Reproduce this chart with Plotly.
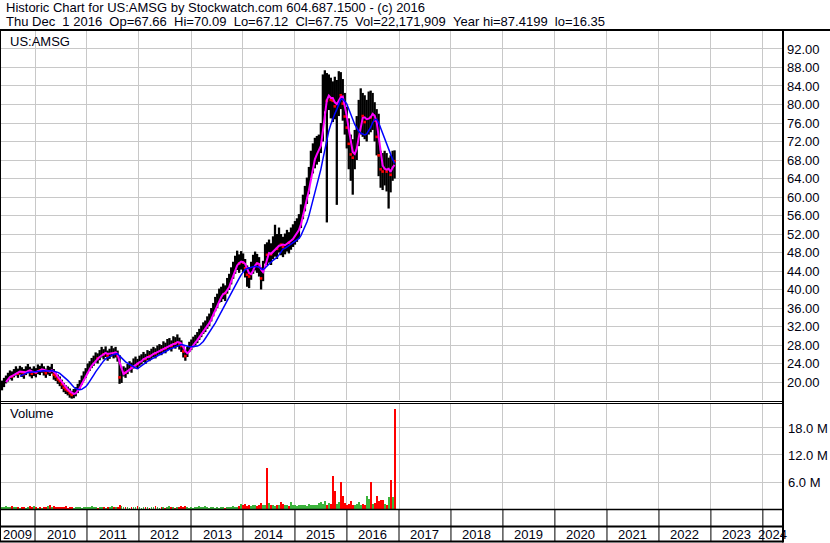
import pandas as pd
import plotly.graph_objects as go

# ---------------- data (biweekly) ----------------
close = [
    19.4, 19.9, 20.6, 21.0, 21.6, 21.2, 21.9, 22.4, 21.8, 22.6,
    22.1, 21.7, 22.5, 22.9, 22.2, 21.8, 22.4, 22.0, 22.7, 22.5,
    23.0, 22.4, 21.9, 22.6, 22.3, 22.8, 21.6, 21.2, 20.6, 20.2,
    19.5, 18.8, 18.4, 18.1, 17.6, 17.2, 17.5, 17.9, 18.6, 19.5,
    20.4, 21.3, 21.9, 23.0, 23.4, 24.1, 24.6, 25.3, 25.1, 25.8,
    26.4, 26.0, 26.5, 25.7, 26.1, 26.6, 26.2, 26.4, 25.6, 21.0,
    21.8, 22.3, 22.0, 22.8, 23.4, 23.1, 24.0, 24.4, 23.9, 24.6,
    24.9, 25.4, 25.0, 25.8, 25.6, 26.1, 26.5, 26.2, 26.8, 27.1,
    26.9, 27.6, 27.3, 28.0, 28.2, 27.8, 28.6, 28.4, 28.9, 28.3,
    27.8, 26.6, 25.6, 26.5, 27.6, 28.0, 28.6, 29.0, 29.6, 30.3,
    30.9, 31.6, 32.0, 32.8, 33.4, 34.5, 35.6, 36.8, 37.5, 38.6,
    38.9, 39.6, 39.2, 40.8, 41.6, 42.9, 44.1, 45.3, 46.2, 45.6,
    46.3, 45.8, 44.6, 43.2, 42.8, 44.0, 45.4, 46.1, 45.6, 44.9,
    42.4, 44.0, 48.0, 47.5, 48.1, 47.6, 48.9, 49.4, 48.8, 50.2,
    49.7, 49.2, 49.8, 50.5, 50.1, 51.0, 51.6, 52.2, 52.8, 53.6,
    55.8, 57.8, 59.6, 61.3, 63.5, 66.8, 68.2, 69.4, 70.1, 70.6,
    72.5, 79.5, 82.5, 80.8, 82.4, 81.0, 80.8, 79.6, 79.8, 83.0,
    82.0, 80.2, 77.4, 75.0, 71.5, 69.2, 68.5, 70.2, 72.5, 75.8,
    78.0, 77.5, 76.2, 76.8, 77.8, 77.2, 79.0, 76.5, 73.0, 69.0,
    66.0, 65.5, 66.8, 65.5, 66.0, 64.8, 68.3, 67.75,
]
high = [
    20.3, 20.9, 21.4, 22.0, 22.5, 22.3, 22.8, 23.4, 22.9, 23.5,
    23.2, 22.8, 23.4, 23.9, 23.3, 22.9, 23.4, 23.0, 23.8, 23.5,
    24.0, 23.4, 22.9, 23.5, 23.3, 23.9, 22.8, 22.1, 21.6, 21.2,
    20.5, 19.8, 19.3, 19.0, 18.6, 18.1, 18.5, 18.9, 19.6, 20.4,
    21.4, 22.3, 23.0, 24.0, 24.5, 25.2, 25.7, 26.4, 26.2, 26.9,
    27.6, 27.1, 27.7, 26.8, 27.2, 27.8, 27.3, 27.6, 26.8, 25.8,
    23.0, 23.4, 23.1, 23.9, 24.5, 24.2, 25.1, 25.5, 25.0, 25.7,
    26.0, 26.5, 26.1, 26.9, 26.7, 27.2, 27.6, 27.3, 27.9, 28.2,
    28.0, 28.8, 28.5, 29.3, 29.5, 29.0, 29.9, 29.7, 30.3, 29.6,
    29.0, 27.9, 26.8, 27.6, 28.7, 29.2, 29.8, 30.2, 30.8, 31.5,
    32.2, 32.9, 33.3, 34.2, 34.8, 36.0, 37.1, 38.4, 39.1, 40.2,
    40.6, 41.3, 40.9, 42.5, 43.4, 44.8, 46.0, 47.3, 48.4, 47.6,
    48.3, 47.8, 46.6, 45.2, 44.8, 46.0, 47.5, 48.2, 47.7, 47.0,
    44.8, 46.2, 49.8, 50.2, 50.8, 50.0, 51.5, 54.0, 52.0, 53.4,
    52.0, 51.4, 52.1, 52.9, 52.4, 53.4, 54.1, 54.8, 55.4, 56.3,
    58.4, 60.5, 62.4, 64.2, 66.5, 70.0, 71.6, 72.8, 73.2, 73.5,
    76.0, 86.5, 87.4, 86.8, 86.5, 85.8, 85.0, 86.0, 85.3, 87.2,
    87.0, 85.5, 82.5, 79.5, 77.0, 73.5, 72.5, 74.5, 77.5, 81.0,
    83.5, 82.5, 82.0, 81.0, 82.8, 83.0, 82.5, 80.5, 79.0, 78.0,
    70.0, 69.5, 70.0, 69.5, 68.5, 69.0, 70.0, 70.09,
]
low = [
    18.2, 18.9, 19.7, 20.1, 20.6, 20.3, 21.0, 21.4, 20.9, 21.6,
    21.1, 20.7, 21.5, 21.9, 21.2, 20.8, 21.3, 21.0, 21.7, 21.5,
    22.0, 21.4, 20.9, 21.6, 21.3, 21.8, 20.5, 20.2, 19.6, 19.1,
    18.5, 17.8, 17.4, 17.1, 16.6, 16.4, 16.5, 16.9, 17.6, 18.5,
    19.4, 20.3, 20.9, 21.9, 22.4, 23.0, 23.5, 24.2, 24.0, 24.7,
    25.3, 24.9, 25.4, 24.6, 25.0, 25.5, 25.1, 25.3, 24.4, 19.6,
    19.8, 21.2, 20.9, 21.7, 22.3, 22.0, 22.9, 23.3, 22.8, 23.5,
    23.8, 24.3, 23.9, 24.7, 24.5, 25.0, 25.4, 25.1, 25.7, 26.0,
    25.8, 26.5, 26.2, 26.8, 27.0, 26.6, 27.4, 27.2, 27.6, 27.0,
    26.5, 25.3, 24.6, 25.4, 26.5, 26.9, 27.5, 27.9, 28.4, 29.1,
    29.7, 30.4, 30.8, 31.5, 32.1, 33.1, 34.2, 35.3, 36.0, 37.1,
    37.3, 37.9, 37.5, 39.1, 39.9, 41.1, 42.3, 43.4, 44.2, 43.6,
    44.3, 43.8, 42.6, 40.6, 40.3, 42.1, 43.4, 44.1, 43.6, 42.8,
    40.0, 41.8, 45.6, 45.3, 45.8, 45.3, 46.6, 47.1, 46.6, 48.0,
    47.4, 47.0, 47.6, 48.2, 47.8, 48.6, 49.2, 49.7, 50.3, 51.0,
    53.3, 55.2, 56.9, 58.5, 60.6, 63.8, 65.1, 66.2, 67.0, 67.6,
    69.5, 72.0, 78.5, 54.5, 78.8, 77.0, 76.2, 76.8, 58.3, 77.5,
    79.0, 76.5, 73.5, 70.5, 66.0, 63.5, 60.5, 66.0, 68.0, 71.0,
    73.5, 73.0, 72.5, 72.0, 73.5, 74.0, 74.5, 72.0, 69.0, 64.5,
    62.0, 61.5, 62.5, 61.2, 57.5, 61.0, 63.5, 64.0,
]
volume_m = [
    0.5, 0.4, 0.6, 0.5, 0.4, 0.7, 0.5, 0.4, 0.5, 0.3,
    0.4, 0.5, 0.3, 0.4, 0.6, 0.5, 0.7, 0.4, 0.3, 0.4,
    0.3, 0.4, 0.5, 0.6, 1.0, 0.5, 0.6, 0.4, 0.5, 0.4,
    0.5, 0.4, 0.6, 0.3, 0.5, 0.4, 0.3, 0.4, 0.5, 0.4,
    0.3, 0.4, 0.5, 0.4, 0.5, 0.6, 0.4, 0.5, 0.3, 0.4,
    0.5, 0.4, 0.3, 0.5, 0.4, 0.6, 0.5, 0.4, 0.5, 0.8,
    0.6, 0.5, 0.4, 0.5, 0.3, 0.4, 0.5, 0.4, 0.6, 0.4,
    0.3, 0.4, 0.5, 0.4, 0.3, 0.5, 0.4, 0.6, 0.4, 0.3,
    0.4, 0.5, 0.3, 0.4, 0.6, 0.5, 0.4, 0.3, 0.5, 0.4,
    0.6, 0.5, 0.7, 0.4, 0.3, 0.4, 0.3, 0.5, 0.4, 0.7,
    0.5, 0.4, 0.6, 0.4, 0.3, 0.4, 0.5, 0.3, 0.4, 0.3,
    0.4, 0.5, 0.3, 0.4, 0.5, 0.4, 0.6, 0.5, 0.4, 0.7,
    1.2, 0.8, 1.1, 0.7, 0.9, 0.6, 0.8, 1.0, 0.7, 1.0,
    1.3, 1.0, 0.9, 9.0, 1.4, 0.8, 0.9, 0.7, 0.8, 1.0,
    1.6, 1.1, 0.9, 0.8, 0.7, 1.5, 0.9, 0.8, 0.7, 0.9,
    0.8, 1.0, 0.9, 0.7, 1.2, 0.8, 0.9, 1.0, 0.8, 1.3,
    1.6, 1.2, 1.8, 1.0, 1.4, 1.1, 7.3, 3.9, 1.2, 1.5,
    6.0, 3.0, 1.3, 1.0, 1.2, 1.8, 1.0, 0.9, 1.1, 1.5,
    0.8, 1.2, 0.9, 3.0, 2.3, 6.0, 1.1, 1.3, 3.0, 1.8,
    1.9, 2.0, 1.1, 1.0, 2.6, 6.4, 2.6, 22.17,
]
price_ticks = [20, 24, 28, 32, 36, 40, 44, 48, 52, 56, 60, 64, 68, 72, 76, 80, 84, 88, 92]
volume_ticks = [6, 12, 18]
years = list(range(2009, 2025))
title1 = "Historic Chart for US:AMSG by Stockwatch.com 604.687.1500 - (c) 2016"
title2 = ("Thu Dec  1 2016  Op=67.66  Hi=70.09  Lo=67.12  Cl=67.75  "
          "Vol=22,171,909  Year hi=87.4199  lo=16.35")
symbol = "US:AMSG"

# ---------------- derived ----------------
n = len(close)
dates = pd.date_range(end="2016-12-01", periods=n, freq="14D")
cs = pd.Series(close)
ma_short = cs.rolling(3).mean()
ma_long = cs.rolling(10).mean()

bx, by = [], []
for d, h, l in zip(dates, high, low):
    bx += [d, d, None]
    by += [l, h, None]

down = [i for i in range(1, n) if close[i] < close[i - 1]]
vcolors = ["#ff0000" if (i > 0 and close[i] < close[i - 1]) else "#3cb43c" for i in range(n)]

X0 = pd.Timestamp("2009-04-30")
X1 = pd.Timestamp("2024-05-14 12:00")
W, H = 830, 543
ML, MR, MT, MB = 0, 48, 31, 33
PW = W - ML - MR
PH = H - MT - MB


def fx(px):
    return (px - ML) / PW


def fy(py):
    return (H - MB - py) / PH


FONT = "Liberation Sans, Arial, sans-serif"
TXT = "#000010"

fig = go.Figure()
fig.add_trace(go.Scatter(x=bx, y=by, mode="lines", line=dict(color="black", width=2.3),
                         hoverinfo="skip", xaxis="x", yaxis="y"))
fig.add_trace(go.Scatter(x=[dates[i] for i in down], y=[close[i] for i in down], mode="markers",
                         marker=dict(symbol="square", size=2.6, color="#ff0000", line=dict(width=0)),
                         xaxis="x", yaxis="y"))
fig.add_trace(go.Scatter(x=dates, y=ma_short, mode="lines", line=dict(color="#ff00ff", width=2),
                         xaxis="x", yaxis="y"))
fig.add_trace(go.Scatter(x=dates, y=ma_long, mode="lines", line=dict(color="#0000ff", width=1.5),
                         xaxis="x", yaxis="y"))
fig.add_trace(go.Bar(x=dates, y=volume_m, marker=dict(color=vcolors, line=dict(width=0)),
                     width=13 * 24 * 3600 * 1000, xaxis="x2", yaxis="y2"))

grid = "#c8c8c8"
fig.update_layout(
    width=W, height=H, margin=dict(l=ML, r=MR, t=MT, b=MB, autoexpand=False),
    paper_bgcolor="white", plot_bgcolor="white", showlegend=False,
    font=dict(family=FONT, size=13, color=TXT),
    bargap=0, hovermode=False,
    xaxis=dict(type="date", range=[X0, X1], domain=[0, 1], anchor="y",
               tick0="2009-01-01", dtick="M12", showticklabels=False, ticks="",
               showgrid=True, gridcolor=grid, gridwidth=1, zeroline=False, showline=False),
    xaxis2=dict(type="date", range=[X0, X1], domain=[0, 1], anchor="y2", matches="x",
                tick0="2009-01-01", dtick="M12", showticklabels=False, ticks="",
                showgrid=True, gridcolor=grid, gridwidth=1, zeroline=False, showline=False),
    yaxis=dict(domain=[fy(400), 1], range=[16.11, 95.89], side="right", anchor="x",
               tickvals=price_ticks, ticktext=["%.2f" % v for v in price_ticks],
               showgrid=True, gridcolor=grid, gridwidth=1, zeroline=False, showline=False,
               ticks="", ticklabelstandoff=4, automargin=False,
               tickfont=dict(size=13, color=TXT)),
    yaxis2=dict(domain=[fy(509), fy(404)], range=[0, 23.33], side="right", anchor="x2",
                tickvals=volume_ticks, ticktext=["%.1f M" % v for v in volume_ticks],
                showgrid=True, gridcolor=grid, gridwidth=1, zeroline=False, showline=False,
                ticks="", ticklabelstandoff=5, automargin=False,
                tickfont=dict(size=13, color=TXT)),
)

shapes = []


def hline(py, x0=0, x1=782, w=1):
    shapes.append(dict(type="line", xref="paper", yref="paper", x0=fx(x0), x1=fx(x1),
                       y0=fy(py), y1=fy(py), line=dict(color="black", width=w)))


def vline(px, y0, y1, w=1):
    shapes.append(dict(type="line", xref="paper", yref="paper", x0=fx(px), x1=fx(px),
                       y0=fy(y0), y1=fy(y1), line=dict(color="black", width=w)))


hline(30, 0, 830, 2)
hline(401.5, 0, 782, 1)
hline(403.5, 0, 782, 1)
hline(509.5, 0, 782, 1.5)
hline(526.5, 0, 782, 2)
hline(541.5, 0, 783, 2)
vline(0.5, 30, 542, 1)
vline(783, 30, 542.5, 2)
for yr in years[1:]:
    shapes.append(dict(type="line", xref="x", yref="paper", x0=pd.Timestamp(f"{yr}-01-01"),
                       x1=pd.Timestamp(f"{yr}-01-01"), y0=fy(510), y1=fy(541),
                       line=dict(color="black", width=1)))
fig.update_layout(shapes=shapes)

ann = []
nb = lambda s: s.replace(" ", "\u00a0")
for txt, px, py in [(title1, 4, 8), (title2, 4, 22), (symbol, 8, 41.5), ("Volume", 8, 413)]:
    ann.append(dict(text=nb(txt), xref="paper", yref="paper", x=fx(px), y=fy(py),
                    xanchor="left", yanchor="middle", showarrow=False,
                    font=dict(family=FONT, size=13, color=TXT)))
for yr in years:
    a = max(pd.Timestamp(f"{yr}-01-01"), X0)
    b = min(pd.Timestamp(f"{yr + 1}-01-01"), X1)
    mid = a + (b - a) / 2
    ann.append(dict(text=str(yr), xref="x", yref="paper", x=mid, y=fy(534),
                    xanchor="center", yanchor="middle", showarrow=False,
                    font=dict(family=FONT, size=13, color=TXT)))
fig.update_layout(annotations=ann)

fig.write_html("out.html", config={"displayModeBar": False, "staticPlot": True},
               post_script="document.body.style.margin='0px';document.body.style.overflow='hidden';")
